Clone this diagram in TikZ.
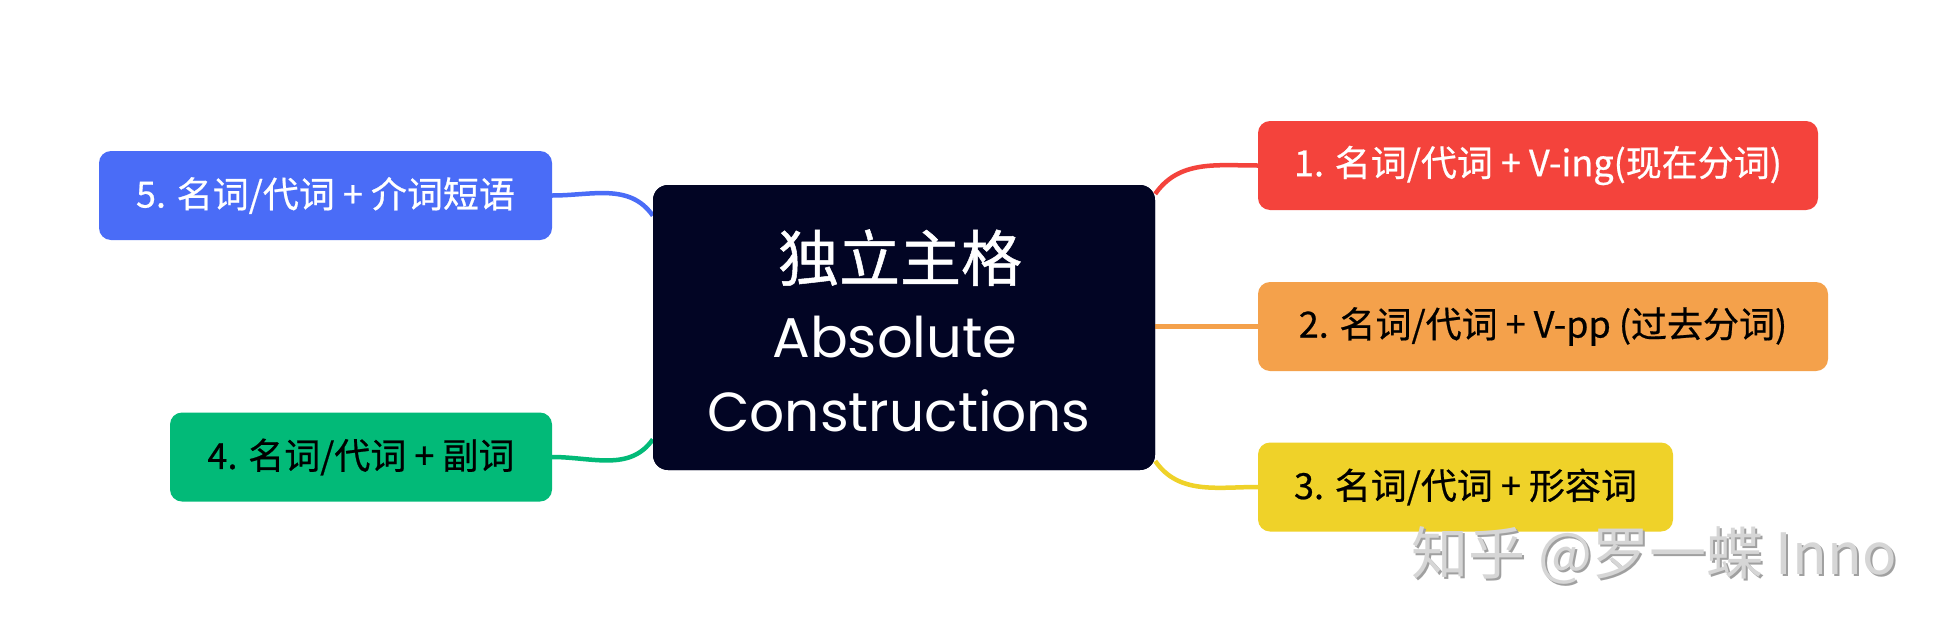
\documentclass[tikz,border=0pt]{standalone}
\usepackage{fontspec}
\setmainfont{Noto Sans CJK SC}
\newfontfamily\popfont{Poppins}
\newfontfamily\cjkfont[FakeBold=0.8]{Noto Sans CJK SC}
\newfontfamily\leaffont[FakeBold=0.6]{Noto Sans CJK SC}
\newfontfamily\wmfont{Noto Sans CJK SC}
\definecolor{cred}{HTML}{F4433C}
\definecolor{corange}{HTML}{F4A14B}
\definecolor{cyellow}{HTML}{EFD229}
\definecolor{cblue}{HTML}{4A6CF7}
\definecolor{cgreen}{HTML}{02BA78}
\definecolor{cnavy}{HTML}{020524}
\definecolor{wmlight}{HTML}{D6D6D6}
\definecolor{wmdark}{HTML}{A0A0A0}
\tikzset{
  leaf/.style={rounded corners=12pt, minimum height=89pt, inner sep=0pt,
    font=\leaffont\fontsize{36}{43}\selectfont},
  hub/.style={rounded corners=15pt, fill=cnavy, minimum width=502pt,
    minimum height=285pt, inner sep=0pt},
  conn/.style={line width=4.5pt},
  ctext/.style={text=white, inner sep=0pt, anchor=base},
  wmtext/.style={inner sep=0pt, font=\wmfont\fontsize{57}{68}\selectfont}
}
\begin{document}
\begin{tikzpicture}[x=1pt,y=-1pt]
\useasboundingbox[fill=white] (0,0) rectangle (1948,632);
% nodes
\node[hub] (c) at (904,327.5) {};
\node[leaf, fill=cred, text=white, minimum width=560pt] (b1) at (1538,165.5) {1. 名词/代词 + V-ing(现在分词)};
\node[leaf, fill=corange, text=black, minimum width=570pt] (b2) at (1543,326.5) {2. 名词/代词 + V-pp (过去分词)};
\node[leaf, fill=cyellow, text=black, minimum width=415pt] (b3) at (1465.5,487) {3. 名词/代词 + 形容词};
\node[leaf, fill=cgreen, text=black, minimum width=382pt] (b4) at (361,457) {4. 名词/代词 + 副词};
\node[leaf, fill=cblue, text=white, minimum width=453pt] (b5) at (325.5,195.5) {5. 名词/代词 + 介词短语};
% connectors
\draw[conn, cred] (b1.west) to[out=180,in=55] (c.28);
\draw[conn, corange] (b2.west) -- (b2.west -| c.east);
\draw[conn, cyellow] (b3.west) to[out=180,in=-55] (c.-28);
\draw[conn, cblue] (b5.east) to[out=0,in=125] (c.156);
\draw[conn, cgreen] (b4.east) to[out=0,in=-125] (c.204);
% hub box again, above the connector ends
\node[hub] (c2) at (c) {};
% center text
\node[ctext, font=\cjkfont\fontsize{61}{72}\selectfont] (t1) at (900,281) {独立主格};
\node[ctext, font=\popfont\fontsize{56}{66}\selectfont] (t2) at (895,357) {Absolute};
\node[ctext, font=\popfont\fontsize{55}{66}\selectfont] (t3) at (899,431) {Constructions};
% watermark
\node[wmtext, text=wmdark] (wms) at (1656,557) {知乎 @罗一蝶 Inno};
\node[wmtext, text=wmlight] (wm) at (1654,555) {知乎 @罗一蝶 Inno};
\end{tikzpicture}
\end{document}
